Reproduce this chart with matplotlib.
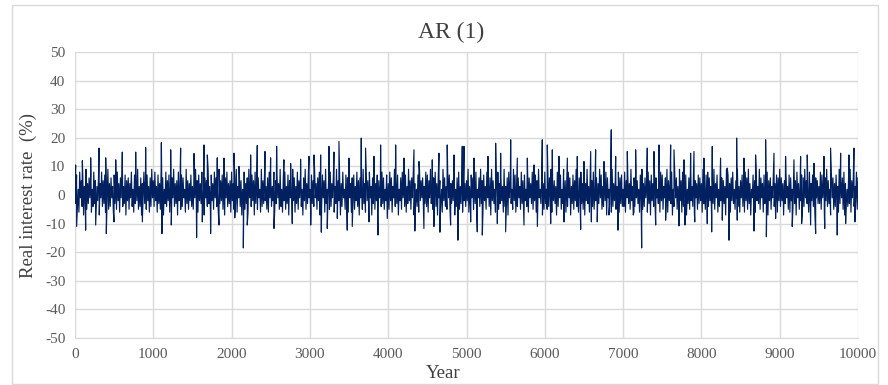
import numpy as np
import matplotlib
matplotlib.use("Agg")
import matplotlib.pyplot as plt
from matplotlib.patches import Rectangle

# ---- data ----
# dense core of the series, one reading every 10 years (0..10000)
core_step = 10
core_values = [
    4,-3,7,-5,2,-6,8,-1,5,-4,6,-7,3,-2,9,-5,4,-3,6,-1,7,-6,2,-4,8,-3,5,-5,3,-2,6,-7,4,-1,8,-4,5,-3,7,-6,2,-2,9,-5,4,-4,6,-1,3,-6,
    7,-3,5,-5,8,-2,4,-6,6,-1,9,-4,3,-3,7,-7,5,-2,6,-5,4,-1,8,-4,2,-6,7,-3,5,-2,9,-5,3,-4,6,-7,4,-1,8,-3,5,-5,7,-2,3,-6,6,-4,9,-1,
    5,-4,8,-2,3,-6,7,-3,4,-5,9,-1,6,-7,2,-3,8,-4,5,-2,7,-6,3,-5,6,-1,9,-4,4,-3,5,-7,8,-2,3,-5,7,-4,6,-1,2,-6,9,-3,5,-5,4,-2,7,-4,
    3,-5,6,-1,9,-4,5,-6,7,-2,4,-3,8,-5,2,-7,6,-1,5,-4,9,-3,3,-6,7,-2,4,-5,8,-1,6,-4,2,-6,9,-3,5,-2,7,-5,3,-7,6,-1,8,-4,4,-3,5,-6,
    8,-2,4,-5,6,-3,9,-6,3,-1,7,-4,5,-7,2,-2,8,-5,4,-3,6,-6,9,-1,3,-4,7,-2,5,-7,8,-3,4,-5,6,-1,2,-6,9,-4,5,-3,7,-2,3,-5,6,-6,8,-1,
    6,-4,3,-2,8,-6,5,-3,7,-1,4,-5,9,-4,2,-6,6,-2,8,-5,3,-3,7,-7,5,-1,4,-4,9,-2,6,-6,3,-3,8,-5,5,-1,7,-4,2,-7,6,-2,9,-5,4,-3,7,-1,
    2,-6,7,-3,5,-4,9,-1,4,-5,6,-2,8,-7,3,-4,7,-1,5,-6,9,-3,2,-2,6,-5,8,-4,4,-1,7,-6,3,-3,9,-5,5,-2,6,-7,4,-4,8,-1,2,-5,7,-3,6,-6,
    9,-1,4,-6,6,-3,7,-5,3,-2,8,-4,5,-7,6,-1,2,-5,9,-3,4,-6,7,-2,5,-4,8,-1,3,-7,6,-3,9,-5,4,-2,7,-6,5,-1,3,-4,8,-3,6,-5,2,-2,7,-6,
    4,-5,8,-2,6,-6,3,-1,9,-4,5,-3,7,-7,2,-2,6,-5,8,-1,4,-4,7,-6,3,-3,9,-2,5,-5,6,-1,8,-7,4,-3,2,-4,7,-6,9,-2,5,-1,6,-5,3,-3,8,-4,
    7,-6,5,-1,9,-3,3,-5,6,-2,8,-4,4,-7,7,-1,5,-3,2,-6,9,-2,6,-4,3,-5,8,-1,7,-6,4,-3,5,-2,9,-7,2,-4,6,-1,8,-5,3,-3,7,-6,5,-2,4,-4,
    5,-2,9,-6,3,-4,7,-1,6,-5,4,-3,8,-7,2,-1,6,-4,9,-3,5,-6,7,-2,3,-5,8,-1,4,-4,6,-7,9,-2,5,-3,2,-6,7,-1,8,-5,4,-3,6,-2,3,-6,9,-4,
    3,-4,6,-7,8,-1,5,-3,2,-5,9,-2,7,-6,4,-4,6,-1,3,-5,8,-3,5,-7,7,-2,2,-4,9,-6,6,-1,4,-3,8,-5,3,-2,7,-6,5,-4,9,-1,2,-3,6,-7,4,-5,
    8,-3,2,-5,7,-4,6,-1,9,-6,4,-2,5,-3,3,-7,8,-4,6,-1,7,-5,2,-3,9,-2,5,-6,4,-4,8,-1,6,-7,3,-3,7,-5,5,-2,9,-4,2,-6,6,-1,8,-3,4,-5,
    6,-7,4,-2,9,-3,3,-6,7,-1,5,-4,8,-5,2,-2,6,-6,4,-3,9,-1,7,-5,3,-4,5,-2,8,-7,6,-1,2,-3,7,-6,9,-4,4,-2,5,-5,3,-1,8,-6,6,-3,7,-4,
    2,-4,8,-6,5,-1,7,-3,4,-5,9,-2,3,-7,6,-4,8,-1,5,-3,2,-6,7,-2,9,-5,4,-4,6,-1,3,-6,8,-3,5,-7,7,-2,4,-4,9,-5,6,-1,2,-3,5,-6,8,-2,
    7,-5,3,-1,6,-4,9,-6,5,-2,4,-3,8,-7,2,-4,7,-1,6,-5,3,-3,9,-2,5,-6,8,-4,4,-1,7,-7,2,-3,6,-5,9,-2,3,-4,8,-6,5,-1,4,-5,7,-3,6,-2,
    4,-6,9,-3,2,-5,7,-1,8,-4,6,-2,3,-7,5,-3,9,-5,4,-1,7,-6,2,-4,8,-2,6,-5,5,-3,3,-7,9,-1,7,-4,4,-6,6,-2,8,-3,2,-5,5,-1,9,-4,3,-6,
    5,-1,7,-4,3,-6,8,-2,6,-5,9,-3,4,-7,2,-1,7,-4,5,-6,8,-2,3,-3,9,-5,6,-1,4,-6,7,-3,2,-4,8,-7,5,-2,6,-5,3,-1,9,-4,4,-3,7,-6,6,-2,
    9,-4,6,-2,4,-7,5,-3,8,-1,3,-5,7,-6,6,-2,2,-4,9,-3,5,-7,8,-1,4,-5,3,-2,7,-6,6,-4,9,-1,5,-3,2,-6,8,-5,4,-2,7,-4,3,-7,6,-1,5,-3,
    3,-3,8,-5,7,-1,4,-6,6,-2,9,-4,5,-3,2,-7,8,-1,6,-5,4,-4,7,-2,3,-6,9,-3,5,-1,6,-5,8,-7,4,-2,2,-4,7,-3,9,-6,5,-1,6,-4,3,-2,8,-5,
    6,
]

# spikes beyond the core (year, value)
spike_years = [
    8, 21, 94, 136, 200, 264, 306, 392, 400, 498, 520, 604, 775, 860, 902, 1103, 1110,
    1222, 1230, 1349, 1520, 1553, 1626, 1647,
    1690, 1732, 1817, 1839, 1903, 2030, 2040, 2094, 2150, 2200, 2243, 2328, 2426, 2498,
    2541, 2575, 2668, 2754, 2775, 2881, 2988, 3010, 3052, 3137, 3146, 3222, 3243, 3307,
    3350, 3371, 3477, 3499, 3541, 3656, 3711, 3754, 3818, 3869, 3903, 3988, 4095, 4201,
    4329, 4340, 4393, 4456, 4563, 4584, 4648, 4660, 4754, 4797, 4840, 4890, 4946,
    4968, 5053, 5096, 5138, 5202, 5274, 5372, 5394, 5436, 5500, 5564, 5649, 5734, 5777,
    5862, 5905, 5968, 6032, 6075, 6096, 6181, 6245, 6288, 6415, 6458, 6500, 6586, 6595,
    6649, 6670, 6756, 6820, 6849, 6905, 6934, 7054, 7139, 7160, 7237, 7309, 7394, 7416,
    7458, 7543, 7607, 7650, 7713, 7777, 7790, 7862, 7905, 7915, 8032, 8075, 8131, 8139,
    8245, 8267,
    8330, 8352, 8450, 8458, 8543, 8671, 8692, 8820, 8830, 8927, 8948, 9075, 9160, 9182,
    9267, 9280, 9352, 9395, 9437, 9459, 9565, 9575, 9650, 9735, 9778, 9842, 9884, 9948, 9960,
]
spike_values = [
    10.5, -11, 12, -12.3, 13, -10.5, 16.4, 13, -13.5, -9.4, 12.3, 15, 15, -9.4, 16.6, 18.3, -13.5,
    15.8, -10.5, 16.4, 14.5, -14.8, -9.4, 17.5,
    14, -13.5, 13, -10.5, 12.9, 14.6, -8, 10, -18.5, -10.5, 14, 17.3, 15.2, 13,
    -11.7, 17, 12.3, 11, -10, 12.5, 13.5, -10.5, 14, 14, -13, -11.7, 17, 15,
    -8.2, 18.7, -12.3, 12.9, -11, 19.9, 16.4, -9.4, 13.5, -14, 17.5, -8.2, 17.5, 12.9,
    15.8, -12.6, 11.7, -11.7, 12.3, -11, 14.6, -13, 17.5, -10.5, 14, -15.8, 17,
    17, -9.4, 12.9, -12.9, -14, 13.5, 18.1, -10, 14.6, -12.9, 19.3, 12.9, -10.5, 12.9,
    10.5, -11, 19.3, 17.5, -10, 15.8, 13.5, -9.4, 12.9, 13.5, -12, 11.7, 15.2, -9.4,
    15.8, -9.4, 11.7, -7, 22.8, 13.5, -12.3, 15.2, -5.9, 15.8, -18.5, 16.4, 15.2, -10.5,
    17.5, -8.8, 17.5, 15.8, -10.8, 12.3, -10.5, 14.6, 15.2, -9.4, 12.9, -10, -12.9, 17,
    12.9, -8.8,
    9.4, -15.8, 19.9, -8.8, 12.9, -12.6, 14, 19.3, -14.6, 14.6, -8.2, 13.5, -11, 12.3,
    13.5, -10, 14, -10.5, 11.1, -13.5, 13.5, -11.7, 16.4, -14, 14.6, -10, 14, 16.4, -9.4,
]

# ---- assemble series ----
core_years = np.arange(len(core_values)) * core_step
years = np.concatenate([core_years, np.array(spike_years)])
values = np.concatenate([np.array(core_values, float), np.array(spike_values, float)])
order = np.argsort(years, kind="stable")
years = years[order]
values = values[order]

# ---- figure ----
plt.rcParams['font.family'] = ['Liberation Serif', 'DejaVu Serif']
plt.rcParams['axes.unicode_minus'] = False
fig = plt.figure(figsize=(8.88, 3.85), dpi=100)
fig.patch.set_facecolor('white')
fig.add_artist(Rectangle((12 / 888, 1.5 / 385), 866 / 888, 379 / 385,
                         transform=fig.transFigure, fill=False,
                         edgecolor='#d9d9d9', linewidth=1.0))

ax = fig.add_axes([75 / 888, 47 / 385, 783 / 888, 286 / 385])
ax.plot(years, values, color='#002060', linewidth=0.85)

ax.set_xlim(0, 10000)
ax.set_ylim(-50, 50)
ax.set_xticks(np.arange(0, 10001, 1000))
ax.set_yticks(np.arange(-50, 51, 10))
ax.grid(True, color='#d9d9d9', linewidth=1.0)
ax.set_axisbelow(True)
for s in ['top', 'right', 'left']:
    ax.spines[s].set_visible(False)
ax.spines['bottom'].set_color('#d9d9d9')
ax.tick_params(length=0, labelsize=11, colors='#595959')
ax.tick_params(axis='y', pad=7)
ax.tick_params(axis='x', pad=7)

fig.text(451 / 888, 1 - 32 / 385, 'AR (1)', fontsize=17, color='#404040',
         ha='center', va='center')
fig.text(443 / 888, 1 - 373 / 385, 'Year', fontsize=13.5, color='#404040',
         ha='center', va='center')
fig.text(28 / 888, 1 - 195 / 385, 'Real interest rate  (%)', fontsize=13.5,
         color='#404040', ha='center', va='center', rotation=90)

fig.savefig('out.png', dpi=100)
